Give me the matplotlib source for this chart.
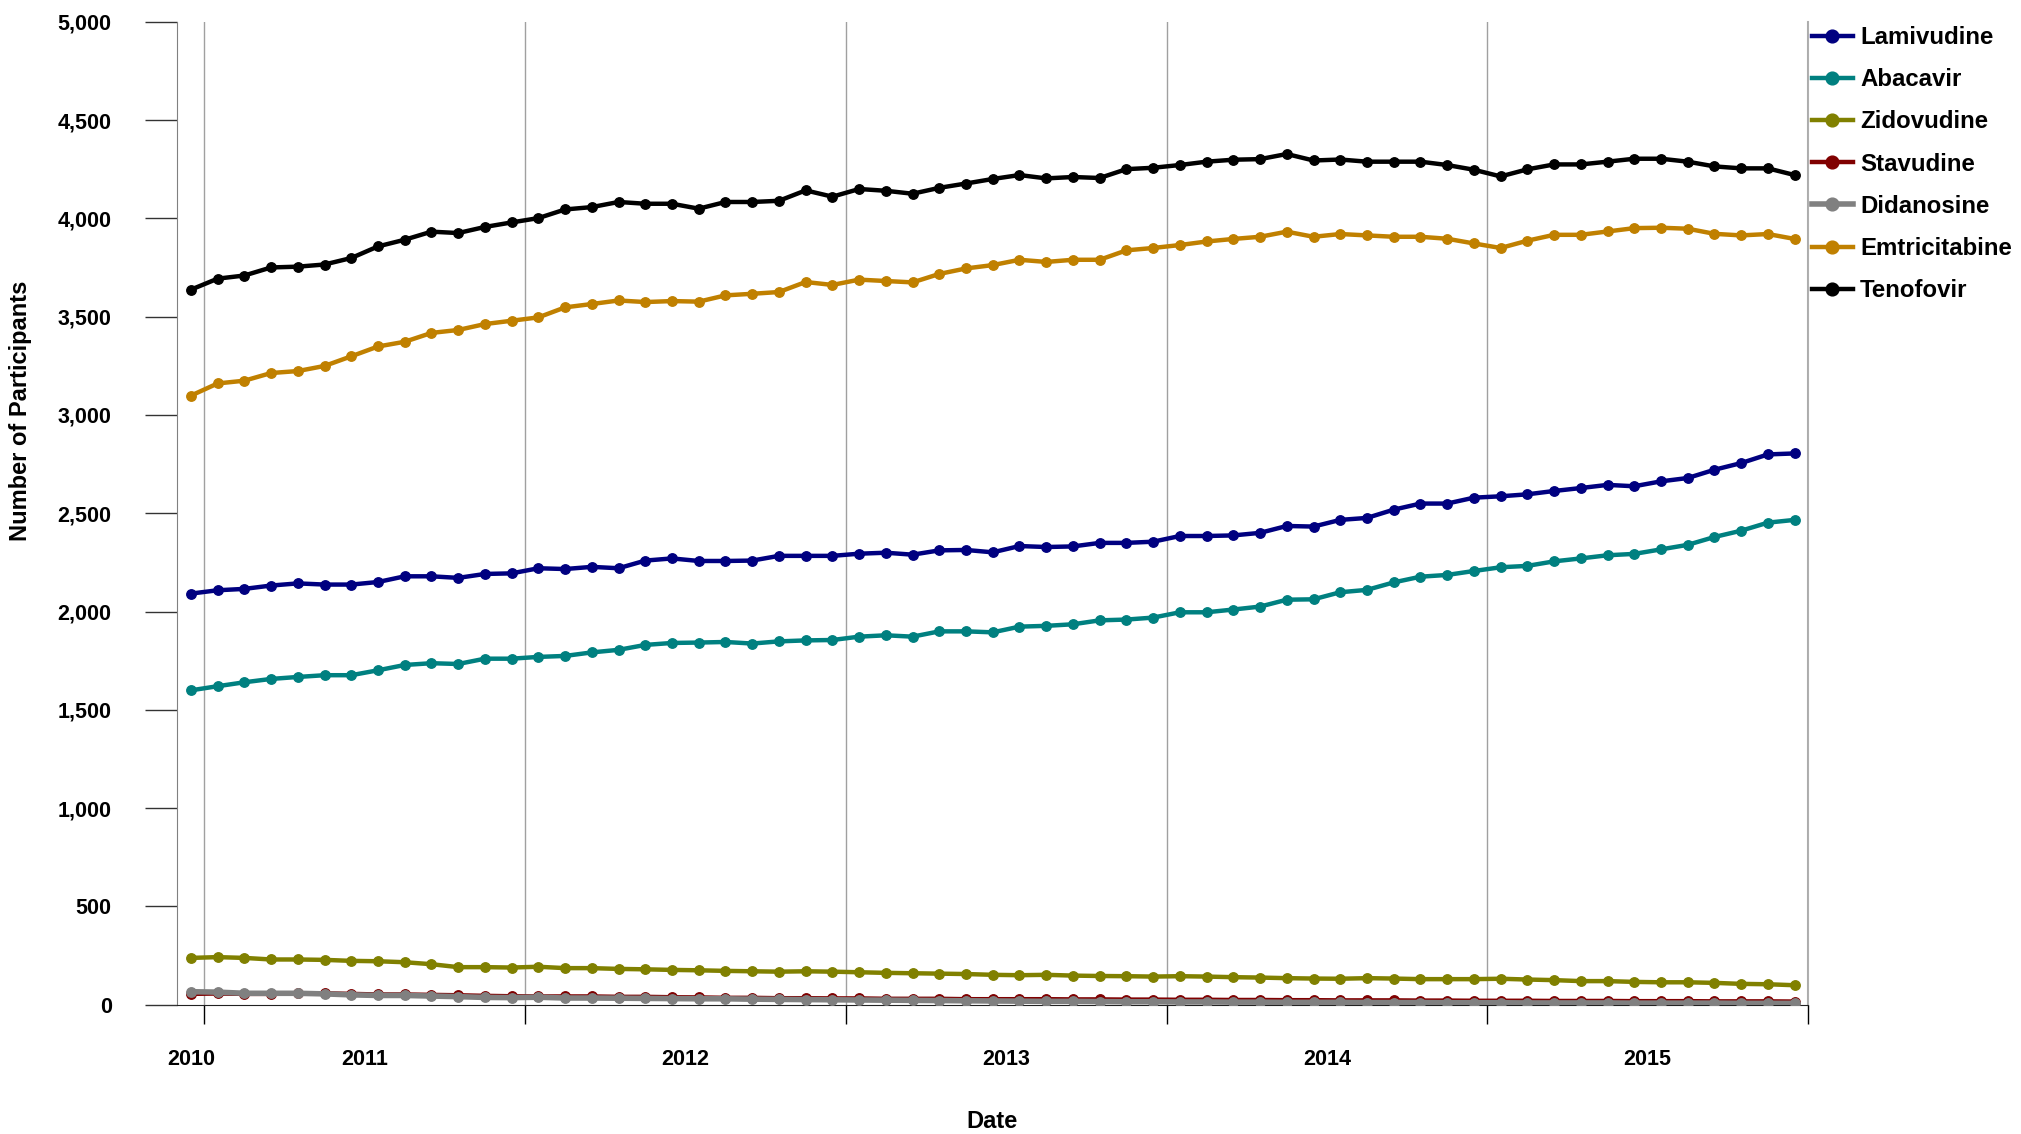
import numpy as np
import pandas as pd
import matplotlib
matplotlib.use("Agg")
import matplotlib.pyplot as plt
from matplotlib.ticker import FuncFormatter, FixedLocator

plt.rcParams['font.family'] = ['Liberation Sans', 'DejaVu Sans']
plt.rcParams['font.weight'] = 'bold'

# monthly counts, Dec 2010 .. Dec 2015
months = pd.date_range('2010-12-01', periods=61, freq='MS')

lamivudine = [2091, 2108, 2115, 2132, 2143, 2137, 2137, 2150, 2179, 2179, 2171, 2191, 2194, 2220, 2216, 2227, 2220, 2259, 2270, 2257, 2257,
              2259, 2283, 2283, 2283, 2294, 2299, 2289, 2311, 2313, 2301, 2333, 2328, 2331, 2349, 2349, 2355, 2384, 2384, 2387, 2400,
              2435, 2432, 2466, 2476, 2518, 2549, 2549, 2579, 2586, 2596, 2613, 2628, 2644, 2637, 2662, 2679, 2721, 2755, 2799, 2804]
abacavir = [1599, 1620, 1640, 1657, 1667, 1676, 1676, 1701, 1728, 1737, 1733, 1760, 1760, 1769, 1774, 1792, 1805, 1830, 1840, 1842, 1845,
            1837, 1848, 1853, 1855, 1872, 1879, 1872, 1899, 1899, 1894, 1923, 1927, 1935, 1955, 1959, 1969, 1996, 1996, 2010, 2025,
            2060, 2062, 2098, 2110, 2148, 2177, 2186, 2206, 2225, 2232, 2255, 2270, 2286, 2293, 2316, 2339, 2379, 2411, 2452, 2466]
zidovudine = [238, 242, 238, 230, 230, 228, 223, 221, 216, 206, 191, 191, 189, 193, 186, 186,
              182, 180, 177, 175, 172, 170, 168, 170, 168,
              165, 162, 160, 158, 156, 152, 150, 152, 148, 146, 145, 143,
              145, 143, 140, 138, 135, 133, 132, 135, 133, 130, 130, 130,
              132, 128, 125, 120, 120, 116, 114, 114, 111, 106, 104, 99]
stavudine = [55, 57, 55, 55, 57, 58, 55, 52, 52, 50,
             48, 45, 43, 42, 42, 42, 40, 40, 38, 37,
             35, 35, 33, 33, 32, 32, 30, 30, 30, 28,
             28, 28, 28, 27, 27, 26, 26, 25, 25, 24,
             24, 23, 23, 22, 22, 22, 21, 21, 20, 20,
             20, 19, 19, 19, 18, 18, 18, 17, 17, 17,
             16]
didanosine = [66, 64, 58, 58, 58, 55, 50, 47, 47, 44,
              41, 37, 36, 38, 34, 34, 33, 32, 31, 30,
              30, 28, 27, 26, 25, 24, 23, 22, 21, 20,
              19, 18, 17, 17, 16, 15, 15, 14, 14, 13,
              13, 12, 12, 12, 11, 11, 11, 10, 10, 10,
              9, 9, 9, 9, 8, 8, 8, 8, 7, 7,
              7]
emtricitabine = [3098, 3160, 3174, 3213, 3223, 3249, 3298, 3348, 3372, 3417, 3432, 3462, 3479, 3496, 3547, 3564, 3582, 3574, 3579, 3576, 3608,
                 3616, 3625, 3676, 3661, 3688, 3681, 3674, 3717, 3745, 3762, 3789, 3778, 3789, 3789, 3837, 3849, 3864, 3882, 3895, 3906,
                 3932, 3906, 3920, 3913, 3906, 3906, 3896, 3872, 3849, 3886, 3916, 3916, 3933, 3950, 3952, 3947, 3921, 3913, 3920, 3895]
tenofovir = [3637, 3693, 3709, 3750, 3754, 3765, 3798, 3857, 3891, 3932, 3925, 3956, 3979, 4001, 4045, 4057, 4083, 4074, 4074, 4049, 4083,
             4083, 4089, 4142, 4110, 4149, 4140, 4125, 4155, 4177, 4200, 4220, 4203, 4210, 4205, 4250, 4257, 4271, 4288, 4298, 4301,
             4327, 4294, 4299, 4288, 4288, 4288, 4271, 4247, 4213, 4249, 4274, 4274, 4288, 4303, 4303, 4288, 4264, 4254, 4254, 4220]

series = [
    ('Lamivudine', lamivudine, '#000080'),
    ('Abacavir', abacavir, '#008080'),
    ('Zidovudine', zidovudine, '#808000'),
    ('Stavudine', stavudine, '#800000'),
    ('Didanosine', didanosine, '#808080'),
    ('Emtricitabine', emtricitabine, '#C08000'),
    ('Tenofovir', tenofovir, '#000000'),
]

x = np.arange(len(months))
years = months.year
year_labels = sorted(set(years))
label_pos = [x[years == y].mean() for y in year_labels]
bounds = [x[years == y].min() - 0.5 for y in year_labels[1:]] + [x[-1] + 0.5]

fig = plt.figure(figsize=(20.21, 11.34), dpi=100)
ax = fig.add_axes([177 / 2021, 1 - 1004.7 / 1134, (1808 - 177) / 2021, (1004.7 - 21.7) / 1134])

for name, vals, col in series:
    lw = 4 if name == 'Didanosine' else 3.2
    ax.plot(x, vals, color=col, lw=lw, marker='o', ms=6.8, label=name,
            solid_joinstyle='round', zorder=3)

ax.set_xlim(-0.52, x[-1] + 0.5)
ax.set_ylim(0, 5000)

# y axis
ax.set_yticks(np.arange(0, 5001, 500))
ax.yaxis.set_major_formatter(FuncFormatter(lambda v, p: f'{int(v):,}'))
ax.tick_params(axis='y', direction='out', length=23, width=1, color='#333333',
               pad=24, labelsize=15.5)

# x axis: ticks at year boundaries, labels in the middle of each year
ax.xaxis.set_major_locator(FixedLocator(bounds))
ax.xaxis.set_minor_locator(FixedLocator(label_pos))
ax.set_xticklabels([], minor=False)
ax.set_xticklabels([str(y) for y in year_labels], minor=True)
ax.tick_params(axis='x', which='major', direction='out', length=14, width=1, color='black')
ax.tick_params(axis='x', which='minor', length=0, pad=32, labelsize=15.5)
for t in ax.xaxis.get_minorticklabels():
    t.set_fontweight('bold')
ax.grid(axis='x', which='major', color='#a0a0a0', lw=1, zorder=1)
# last boundary sits on the right edge; keep it fully visible
ax.axvline(bounds[-1], color='#b0b0b0', lw=1.5, clip_on=False, zorder=1)

ax.spines['top'].set_visible(False)
ax.spines['right'].set_visible(False)
ax.spines['left'].set_color('#808080')
ax.spines['bottom'].set_color('#222222')

fig.text(21 / 2021, 1 - 411 / 1134, 'Number of Participants', rotation=90,
         ha='center', va='center', fontsize=17, fontweight='bold')
fig.text(992 / 2021, 1 - 1122 / 1134, 'Date', ha='center', va='center',
         fontsize=17, fontweight='bold')

fig.legend(loc='upper left', bbox_to_anchor=(1812 / 2021, 1 - 26 / 1134),
           frameon=False, borderpad=0, borderaxespad=0, handlelength=1.7,
           handletextpad=0.3, labelspacing=0.8, markerscale=1.35,
           prop={'size': 17.3, 'weight': 'bold'})

fig.savefig('out.png', dpi=100)
